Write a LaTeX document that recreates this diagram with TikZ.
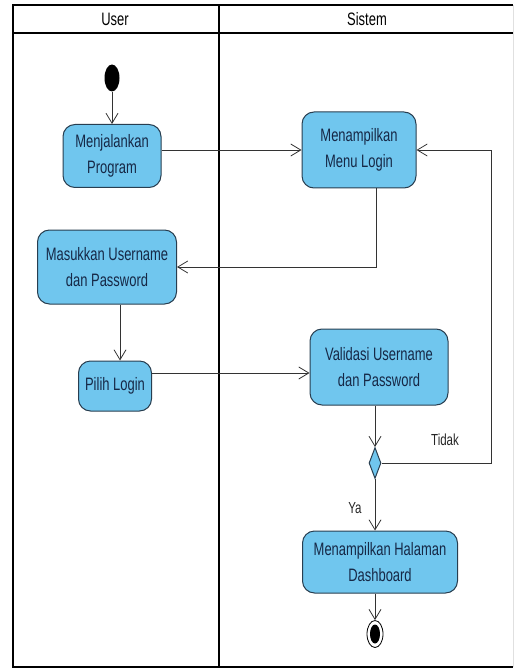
\documentclass[tikz,border=0pt]{standalone}
\usepackage{fontspec}
\setmainfont[FakeStretch=0.72]{Liberation Sans}
\usetikzlibrary{arrows.meta,shapes.geometric}
\definecolor{actfill}{RGB}{112,198,238}
\definecolor{actline}{RGB}{40,62,80}
\definecolor{acttext}{RGB}{22,40,70}
\tikzset{
  activity/.style={rectangle, rounded corners=12pt, draw=actline, fill=actfill, line width=1pt,
    text=acttext, align=center, inner sep=0pt, font=\fontsize{18}{26}\selectfont},
  decision/.style={diamond, draw=actline, fill=actfill, line width=1pt, inner sep=0pt},
  initial/.style={ellipse, fill=black, inner sep=0pt, minimum width=15pt, minimum height=27pt},
  finalring/.style={ellipse, draw=black, fill=white, line width=0.8pt, inner sep=0pt, minimum width=16pt, minimum height=27pt},
  finaldot/.style={ellipse, fill=black, inner sep=0pt, minimum width=10pt, minimum height=19pt},
  flow/.style={-{Straight Barb[length=10pt,width=12pt]}, line width=0.8pt, draw=black!80},
  lane/.style={line width=1.5pt},
  guard/.style={font=\fontsize{16}{18}\selectfont, text=black!85},
}
\begin{document}
\begin{tikzpicture}[x=1pt,y=-1pt]
\useasboundingbox (0,0) rectangle (514,668);
% swimlanes
\draw[black!12, line width=0.8pt] (513,5) -- (513,667);
\draw[lane] (513,5) -- (13,5) -- (13,667) -- (513,667);
\draw[lane] (13,33) -- (513,33);
\draw[lane] (219,5) -- (219,667);
\node[font=\fontsize{18}{20}\selectfont] (laneuser) at (115,19) {User};
\node[font=\fontsize{18}{20}\selectfont] (lanesys) at (367,19) {Sistem};
% activities
\node[initial] (start) at (112,78) {};
\node[activity, minimum width=98pt, minimum height=63pt] (run) at (112,156) {Menjalankan\\Program};
\node[activity, minimum width=114pt, minimum height=76pt] (menu) at (359,150) {Menampilkan\\Menu Login};
\node[activity, minimum width=139pt, minimum height=74pt] (input) at (107,267) {Masukkan Username\\dan Password};
\node[activity, minimum width=73pt, minimum height=50pt] (pilih) at (115,386) {Pilih Login};
\node[activity, minimum width=138pt, minimum height=76pt] (valid) at (379,367) {Validasi Username\\dan Password};
\node[decision, minimum width=12pt, minimum height=31pt] (cek) at (375,463) {};
\node[activity, minimum width=155pt, minimum height=62pt] (dash) at (380,562) {Menampilkan Halaman\\Dashboard};
\node[finalring] (end) at (375,634) {};
\node[finaldot] (enddot) at (end) {};
% flows
\draw[flow] (start) -- (run);
\draw[flow] (menu.west -| run.east) -- (menu.west);
\draw[flow] ([xshift=17pt]menu.south) |- (input.east);
\draw[flow] ([xshift=13pt]input.south) -- ([xshift=5pt]pilih.north);
\draw[flow] ([yshift=13pt]pilih.east) -- ([yshift=-6pt]valid.west);
\draw[flow] (valid.south -| cek.north) -- (cek.north);
\draw[flow] (cek.east) -- ++(110,0) |- (menu.east);
\draw[flow] (cek.south) -- (cek.south |- dash.north);
\draw[flow] (dash.south -| end.north) -- (end.north);
\node[guard] (tidak) at (445,440) {Tidak};
\node[guard] (ya) at (355,508) {Ya};
\end{tikzpicture}
\end{document}
